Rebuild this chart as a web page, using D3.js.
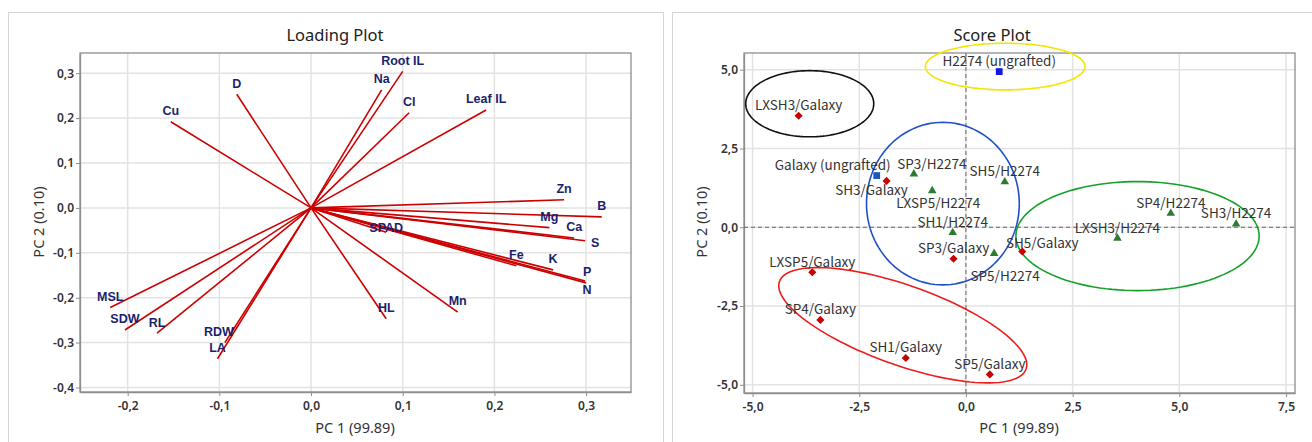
<!DOCTYPE html>
<html>
<head>
<meta charset="utf-8">
<script src="https://cdn.jsdelivr.net/npm/d3@7"></script>
<style>
  body { margin: 0; background: #fff; }
  svg text { font-family: "Noto Sans", "DejaVu Sans", sans-serif; }
  .tick text { font-size: 12px; fill: #333; font-weight: 600; }
  .ptitle { font-size: 16.5px; fill: #222; }
  .alabel { font-size: 14.5px; fill: #333; }
  .lvar { font-family: "Liberation Sans", Arial, sans-serif !important; font-size: 12.5px; fill: #1c1f6e; font-weight: bold; }
  .sname { font-family: "Noto Sans CJK JP", "Noto Sans", sans-serif !important; font-size: 13.5px; fill: #333; }
</style>
</head>
<body>
<svg id="chart" width="1312" height="442"></svg>
<script>
// loading plot: PC1 / PC2 coefficients
const loadVars = ['Cu', 'D', 'Na', 'Root IL', 'Cl', 'Leaf IL', 'Zn', 'B', 'Mg', 'Ca', 'S', 'Fe', 'K', 'P', 'N', 'SPAD', 'HL', 'Mn', 'MSL', 'SDW', 'RL', 'RDW', 'LA'];
const loadPC1 = [-0.153, -0.081, 0.077, 0.100, 0.107, 0.191, 0.276, 0.317, 0.260, 0.287, 0.299, 0.224, 0.264, 0.299, 0.300, 0.082, 0.082, 0.160, -0.219, -0.203, -0.168, -0.094, -0.102];
const loadPC2 = [0.192, 0.253, 0.263, 0.304, 0.212, 0.218, 0.018, -0.020, -0.044, -0.067, -0.073, -0.129, -0.138, -0.163, -0.167, -0.054, -0.247, -0.232, -0.222, -0.272, -0.279, -0.300, -0.336];

// score plot
const scoreNames = ['H2274 (ungrafted)', 'LXSH3/Galaxy', 'Galaxy (ungrafted)', 'SH3/Galaxy', 'SP3/H2274', 'LXSP5/H2274', 'SH5/H2274', 'SH1/H2274', 'SP3/Galaxy', 'SH5/Galaxy', 'SP5/H2274', 'LXSH3/H2274', 'SP4/H2274', 'SH3/H2274', 'LXSP5/Galaxy', 'SP4/Galaxy', 'SH1/Galaxy', 'SP5/Galaxy'];
const scorePC1 = [0.78, -3.92, -2.09, -1.86, -1.22, -0.79, 0.91, -0.31, -0.29, 1.32, 0.66, 3.55, 4.80, 6.33, -3.60, -3.41, -1.41, 0.56];
const scorePC2 = [4.94, 3.54, 1.64, 1.47, 1.69, 1.16, 1.44, -0.17, -1.00, -0.77, -0.83, -0.35, 0.44, 0.10, -1.43, -2.94, -4.15, -4.67];
const scoreGroup = ['ungrafted H2274', 'Galaxy', 'ungrafted Galaxy', 'Galaxy', 'H2274', 'H2274', 'H2274', 'H2274', 'Galaxy', 'Galaxy', 'H2274', 'H2274', 'H2274', 'H2274', 'Galaxy', 'Galaxy', 'Galaxy', 'Galaxy'];

// group ellipses in data units: centre + two conjugate half-axes
const ellColor = ['#f2e600', '#111111', '#1f4fc8', '#16a02a', '#ee1c1c'];
const ellCx = [0.92, -3.66, -0.54, 4.02, -1.48];
const ellCy = [5.10, 3.92, 0.75, -0.28, -3.11];
const ellA = [[1.87, 0], [1.50, 0], [1.79, 0], [2.85, 0], [2.889, -1.390]];
const ellB = [[0, 0.74], [0, 1.05], [0, 2.58], [0, 1.73], [-0.312, -1.191]];

const xTicksL = [-0.2, -0.1, 0, 0.1, 0.2, 0.3];
const yTicksL = [-0.4, -0.3, -0.2, -0.1, 0, 0.1, 0.2, 0.3];
const xTicksR = [-5, -2.5, 0, 2.5, 5, 7.5];
const yTicksR = [-5, -2.5, 0, 2.5, 5];

const loc = d3.formatLocale({ decimal: ',', thousands: '.', grouping: [3], currency: ['', ''], minus: '-' });
const fmt = loc.format('.1f');

const svg = d3.select('#chart');

function frame(g, x, y, xt, yt) {
  const [x0, x1] = x.range(), [y1, y0] = y.range();
  g.append('g').selectAll('line.gx').data(xt).join('line')
    .attr('x1', d => x(d)).attr('x2', d => x(d)).attr('y1', y0).attr('y2', y1)
    .attr('stroke', '#e3e3e3').attr('stroke-width', 1.5);
  g.append('g').selectAll('line.gy').data(yt).join('line')
    .attr('x1', x0).attr('x2', x1).attr('y1', d => y(d)).attr('y2', d => y(d))
    .attr('stroke', '#e3e3e3').attr('stroke-width', 1.5);
  g.append('rect').attr('x', x0).attr('y', y0).attr('width', x1 - x0).attr('height', y1 - y0)
    .attr('fill', 'none').attr('stroke', '#8e8e8e').attr('stroke-width', 1.3);
  const ax = g.append('g').attr('transform', `translate(0,${y1})`)
    .call(d3.axisBottom(x).tickValues(xt).tickFormat(fmt).tickSize(4).tickSizeOuter(0).tickPadding(5));
  const ay = g.append('g').attr('transform', `translate(${x0},0)`)
    .call(d3.axisLeft(y).tickValues(yt).tickFormat(fmt).tickSize(4).tickSizeOuter(0).tickPadding(2));
  [ax, ay].forEach(a => {
    a.select('.domain').attr('stroke', '#8e8e8e').attr('stroke-width', 1.3);
    a.selectAll('.tick line').attr('stroke', '#8e8e8e');
  });
}

// panel borders
svg.append('rect').attr('x', 8.5).attr('y', 12.5).attr('width', 655).attr('height', 440)
  .attr('fill', '#fff').attr('stroke', '#d4d4d4');
svg.append('rect').attr('x', 672.5).attr('y', 12.5).attr('width', 650).attr('height', 440)
  .attr('fill', '#fff').attr('stroke', '#d4d4d4');

// ---- Loading plot
const xL = d3.scaleLinear().domain([-0.252, 0.349]).range([80, 631]);
const yL = d3.scaleLinear().domain([-0.41, 0.345]).range([392, 53]);
const gL = svg.append('g');
frame(gL, xL, yL, xTicksL, yTicksL);

const loadData = loadVars.map((v, i) => ({ name: v, x: loadPC1[i], y: loadPC2[i] }));
gL.append('g').selectAll('line').data(loadData).join('line')
  .attr('x1', xL(0)).attr('y1', yL(0))
  .attr('x2', d => xL(d.x)).attr('y2', d => yL(d.y))
  .attr('stroke', '#cc0000').attr('stroke-width', 1.6);

// label placement tweaks (px) relative to the arrow tip
const lOff = { 'S': [10, 2], 'N': [1, 7], 'SPAD': [0, -5], 'RDW': [-6, -11], 'Fe': [0, -11], 'P': [2, -9] };
gL.append('g').selectAll('text').data(loadData).join('text')
  .attr('class', 'lvar')
  .attr('x', d => xL(d.x) + (lOff[d.name] ? lOff[d.name][0] : 0))
  .attr('y', d => yL(d.y) + (lOff[d.name] ? lOff[d.name][1] : -11))
  .attr('dy', '0.35em')
  .attr('text-anchor', 'middle')
  .text(d => d.name);

gL.append('text').attr('class', 'ptitle').attr('x', 335).attr('y', 41).attr('text-anchor', 'middle').text('Loading Plot');
gL.append('text').attr('class', 'alabel').attr('x', 355).attr('y', 433).attr('text-anchor', 'middle').text('PC 1 (99.89)');
gL.append('text').attr('class', 'alabel').attr('transform', 'translate(44,222) rotate(-90)').attr('text-anchor', 'middle').text('PC 2 (0.10)');

// ---- Score plot
const xR = d3.scaleLinear().domain([-5.2, 7.71]).range([744, 1295]);
const yR = d3.scaleLinear().domain([-5.26, 5.53]).range([393, 53]);
const gR = svg.append('g');
frame(gR, xR, yR, xTicksR, yTicksR);

gR.append('line').attr('x1', xR(0)).attr('x2', xR(0)).attr('y1', 53).attr('y2', 393)
  .attr('stroke', '#666').attr('stroke-dasharray', '4,3');
gR.append('line').attr('x1', 744).attr('x2', 1295).attr('y1', yR(0)).attr('y2', yR(0))
  .attr('stroke', '#666').attr('stroke-dasharray', '4,3');

const ellLine = d3.line().x(p => xR(p[0])).y(p => yR(p[1]));
ellColor.forEach((c, i) => {
  const pts = d3.range(0, 361, 3).map(a => {
    const t = a * Math.PI / 180;
    return [ellCx[i] + ellA[i][0] * Math.cos(t) + ellB[i][0] * Math.sin(t),
            ellCy[i] + ellA[i][1] * Math.cos(t) + ellB[i][1] * Math.sin(t)];
  });
  gR.append('path').attr('d', ellLine(pts)).attr('fill', 'none').attr('stroke', c).attr('stroke-width', 1.6);
});

const sym = {
  'Galaxy': [d3.symbolDiamond2, 42, '#c80000'],
  'H2274': [d3.symbolTriangle, 32, '#2f7a32'],
  'ungrafted Galaxy': [d3.symbolSquare, 46, '#1f55b8'],
  'ungrafted H2274': [d3.symbolSquare, 46, '#1414e6']
};
const scoreData = scoreNames.map((n, i) => ({ name: n, x: scorePC1[i], y: scorePC2[i], g: scoreGroup[i] }));
gR.append('g').selectAll('path').data(scoreData).join('path')
  .attr('transform', d => `translate(${xR(d.x)},${yR(d.y)})`)
  .attr('d', d => d3.symbol(sym[d.g][0], sym[d.g][1])())
  .attr('fill', d => sym[d.g][2]);

const sOff = {
  'Galaxy (ungrafted)': [-44, -10], 'SH3/Galaxy': [-15, 9], 'SP3/H2274': [18, -10],
  'LXSP5/H2274': [6, 13], 'SH5/Galaxy': [20, -8], 'SP5/H2274': [11, 23]
};
gR.append('g').selectAll('text').data(scoreData).join('text')
  .attr('class', 'sname')
  .attr('x', d => xR(d.x) + (sOff[d.name] ? sOff[d.name][0] : 0))
  .attr('y', d => yR(d.y) + (sOff[d.name] ? sOff[d.name][1] : -10.5))
  .attr('dy', '0.35em')
  .attr('text-anchor', 'middle')
  .text(d => d.name);

gR.append('text').attr('class', 'ptitle').attr('x', 992).attr('y', 41).attr('text-anchor', 'middle').text('Score Plot');
gR.append('text').attr('class', 'alabel').attr('x', 1019).attr('y', 433).attr('text-anchor', 'middle').text('PC 1 (99.89)');
gR.append('text').attr('class', 'alabel').attr('transform', 'translate(707,222) rotate(-90)').attr('text-anchor', 'middle').text('PC 2 (0.10)');
</script>
</body>
</html>
